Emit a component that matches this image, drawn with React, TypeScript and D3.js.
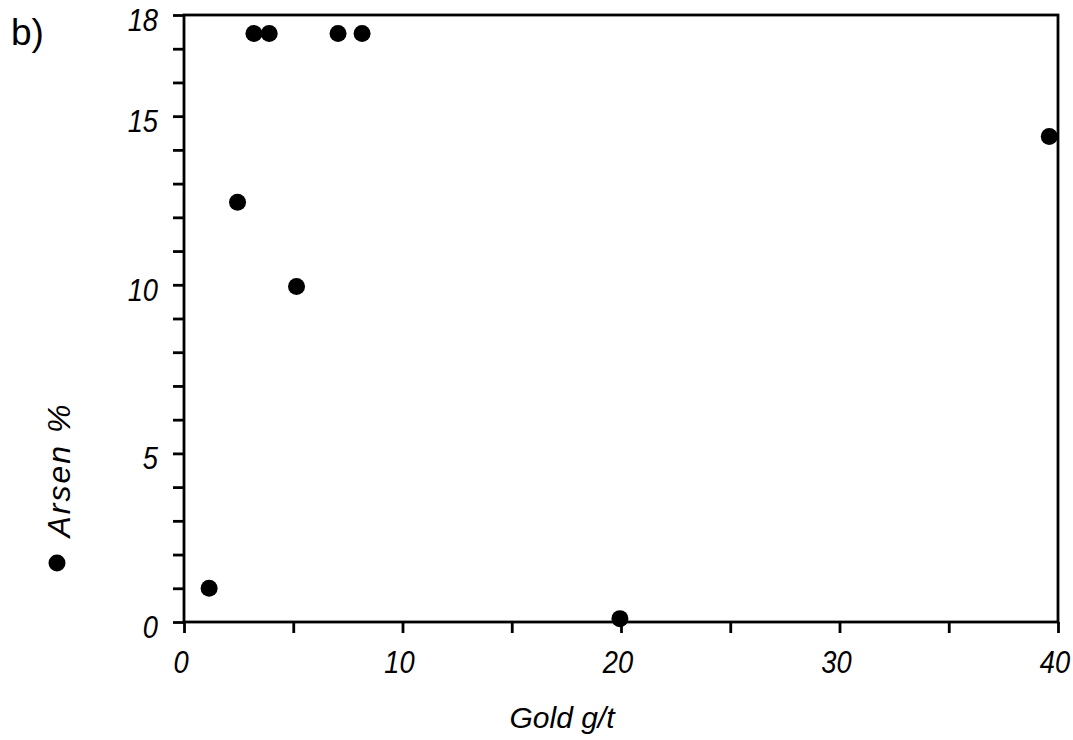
import * as d3 from 'd3';
import React, { useEffect, useRef } from 'react';

// Gold (g/t) vs Arsen (%)
const gold = [1.15, 2.45, 3.2, 3.9, 5.15, 7.05, 8.15, 19.95, 39.6];
const arsen = [1.0, 12.45, 17.45, 17.45, 9.95, 17.45, 17.45, 0.1, 14.4];
const xTickLabels = [0, 10, 20, 30, 40];
const yTickLabels = [0, 5, 10, 15, 18];

const W = 1073;
const H = 740;
const FONT = "'Liberation Sans', Arial, sans-serif";

const App = () => {
  const ref = useRef<SVGSVGElement>(null);

  useEffect(() => {
    document.body.style.margin = '0';
    const svg = d3.select(ref.current)
      .attr('width', W)
      .attr('height', H)
      .style('display', 'block');
    svg.selectAll('*').remove();

    const left = 184, right = 1058, top = 15, bottom = 622;

    const x = d3.scaleLinear().domain([0, 40]).range([left, right]);
    const y = d3.scaleLinear().domain([0, 18]).range([bottom, top]);

    // frame
    svg.append('rect')
      .attr('x', left).attr('y', top)
      .attr('width', right - left).attr('height', bottom - top)
      .attr('fill', 'none').attr('stroke', '#000').attr('stroke-width', 2.8);

    // x axis ticks
    const xAxis = d3.axisBottom(x)
      .tickValues(d3.range(0, 41, 5))
      .tickSize(11)
      .tickFormat(() => '');
    const gx = svg.append('g').attr('transform', `translate(0,${bottom})`).call(xAxis);
    gx.select('.domain').remove();
    gx.selectAll('line').attr('stroke', '#000').attr('stroke-width', 2.8);

    // y axis ticks
    const yAxis = d3.axisLeft(y)
      .tickValues(d3.range(0, 19, 1))
      .tickSize(11)
      .tickFormat(() => '');
    const gy = svg.append('g').attr('transform', `translate(${left},0)`).call(yAxis);
    gy.select('.domain').remove();
    gy.selectAll('line').attr('stroke', '#000').attr('stroke-width', 2.8);

    // tick labels
    svg.append('g').selectAll('text')
      .data(xTickLabels)
      .enter().append('text')
      .attr('transform', d => `translate(${x(d) - 3},673) scale(0.88,1)`)
      .attr('text-anchor', 'middle')
      .attr('font-family', FONT)
      .attr('font-style', 'italic')
      .attr('font-size', 31)
      .text(d => d);

    svg.append('g').selectAll('text')
      .data(yTickLabels)
      .enter().append('text')
      .attr('transform', d => `translate(158,${y(d) + 16}) scale(0.88,1)`)
      .attr('text-anchor', 'end')
      .attr('font-family', FONT)
      .attr('font-style', 'italic')
      .attr('font-size', 31)
      .text(d => d);

    // points
    svg.append('g').selectAll('circle')
      .data(gold.map((g, i) => ({ g, a: arsen[i] })))
      .enter().append('circle')
      .attr('cx', d => x(d.g))
      .attr('cy', d => y(d.a))
      .attr('r', 8.5)
      .attr('fill', '#000');

    // axis titles
    svg.append('text')
      .attr('x', 562)
      .attr('y', 728)
      .attr('text-anchor', 'middle')
      .attr('font-family', FONT)
      .attr('font-style', 'italic')
      .attr('font-size', 30)
      .text('Gold g/t');

    svg.append('circle')
      .attr('cx', 57).attr('cy', 563).attr('r', 8.5).attr('fill', '#000');

    svg.append('text')
      .attr('transform', 'translate(70,470) rotate(-90)')
      .attr('text-anchor', 'middle')
      .attr('font-family', FONT)
      .attr('font-style', 'italic')
      .attr('font-size', 32)
      .attr('letter-spacing', 2)
      .text('Arsen %');

    svg.append('text')
      .attr('x', 11)
      .attr('y', 45)
      .attr('font-family', FONT)
      .attr('font-size', 37)
      .text('b)');
  }, []);

  return <svg ref={ref}></svg>;
};

export default App;
